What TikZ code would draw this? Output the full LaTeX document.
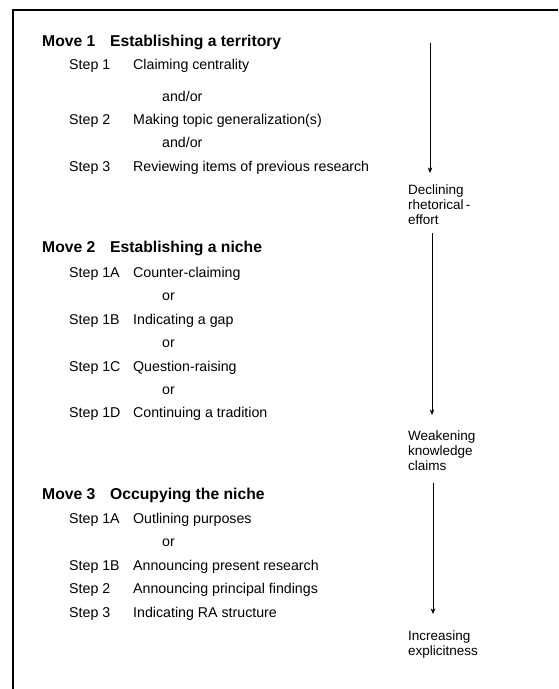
\documentclass[tikz,border=0pt]{standalone}
\usepackage{fontspec}
\setmainfont{Liberation Sans}
\usetikzlibrary{arrows.meta, calc}

\begin{document}
\begin{tikzpicture}[x=1pt, y=-1pt,
  move/.style={anchor=base west, inner sep=0pt, font=\fontsize{15.7}{18}\selectfont\bfseries},
  txt/.style={anchor=base west, inner sep=0pt, font=\fontsize{14.2}{16}\selectfont},
  side/.style={anchor=north west, inner sep=0pt, align=left,
    font=\fontsize{13.5}{15}\selectfont},
  arr/.style={-{Stealth[length=2mm, width=1.6mm]}, line width=0.6pt}]
\useasboundingbox (0,0) rectangle (558,689);
% frame, cut off at the right and bottom
\draw[line width=1.4pt] (13,689) -- (13,10) -- (558,10);

% Move 1
\node[move] (m1)  at (42,46)  {Move 1};
\node[move] (m1t) at (110,46) {Establishing a territory};
\foreach \name/\y/\lbl/\txt in {s1/69/Step 1/Claiming centrality,
    s2/124/Step 2/Making topic generalization(s),
    s3/171/Step 3/Reviewing items of previous research}{
  \node[txt] (\name) at (69,\y) {\lbl};
  \node[txt] (\name t) at (133,\y) {\txt};
}
\node[txt] (ao1) at (162,101) {and/or};
\node[txt] (ao2) at (162,147) {and/or};

% Move 2
\node[move] (m2)  at (42,252) {Move 2};
\node[move] (m2t) at (110,252) {Establishing a niche};
\foreach \name/\y/\lbl/\txt in {n1a/277/Step 1A/Counter-claiming,
    n1b/324/Step 1B/Indicating a gap,
    n1c/371/Step 1C/Question-raising,
    n1d/417/Step 1D/Continuing a tradition}{
  \node[txt] (\name) at (69,\y) {\lbl};
  \node[txt] (\name t) at (133,\y) {\txt};
}
\foreach \name/\y in {or1/300, or2/347, or3/394}
  \node[txt] (\name) at (162,\y) {or};

% Move 3
\node[move] (m3)  at (42,499) {Move 3};
\node[move] (m3t) at (110,499) {Occupying the niche};
\foreach \name/\y/\lbl/\txt in {o1a/523/Step 1A/Outlining purposes,
    o1b/570/Step 1B/Announcing present research,
    o2/593/Step 2/Announcing principal findings,
    o3/617/Step 3/Indicating RA structure}{
  \node[txt] (\name) at (69,\y) {\lbl};
  \node[txt] (\name t) at (133,\y) {\txt};
}
\node[txt] (or4) at (162,546) {or};

% side labels and arrows
\node[side] (dec)  at (408,185) {Declining\\rhetorical\,-\\effort};
\node[side] (weak) at (408,431) {Weakening\\knowledge\\claims};
\node[side] (inc)  at (408,631) {Increasing\\explicitness};
\coordinate (a1) at (430,43);
\coordinate (a2) at (432,233);
\coordinate (a3) at (433,483);
\draw[arr] (a1) -- ($(a1 |- dec.north)+(0,-12)$);
\draw[arr] (a2) -- ($(a2 |- weak.north)+(0,-16)$);
\draw[arr] (a3) -- ($(a3 |- inc.north)+(0,-17)$);
\end{tikzpicture}
\end{document}
